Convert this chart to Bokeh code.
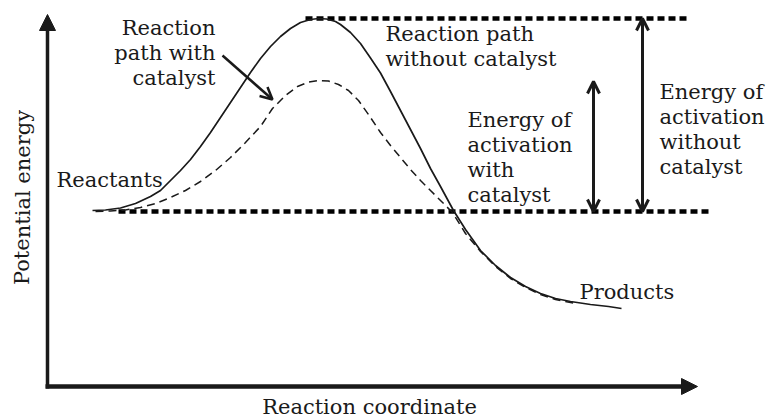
from bokeh.plotting import figure
from bokeh.models import Range1d, Arrow, NormalHead, OpenHead, Label
from bokeh.embed import file_html
from bokeh.resources import INLINE

# ---------------- data (arbitrary energy units) ----------------
coord_uncat = [45, 58, 73, 88, 103, 113, 123, 133, 143, 153,
               163, 173, 183, 193, 203, 213, 223, 233, 243, 253,
               263, 271, 279, 288, 293, 303, 313, 323, 333, 343,
               353, 363, 373, 383, 393, 406, 418, 433, 448, 463,
               478, 493, 508, 523, 543, 561, 574]
energy_uncat = [176, 176.5, 178.5, 183, 190, 196, 206, 216, 227, 240,
                254, 269, 284, 299, 314, 328, 340, 350, 358, 364,
                367, 368, 367.5, 365, 362, 354, 343, 328.5, 313.5, 295,
                276, 257, 238, 218, 200, 176, 157, 136, 121, 109,
                100, 93, 88, 85, 82, 80, 78]

coord_cat = [48, 63, 78, 93, 108, 123, 138, 153, 168, 183,
             198, 213, 225, 238, 250, 261, 271, 281, 291, 301,
             311, 321, 333, 343, 353, 363, 373, 383, 393, 405,
             418, 433, 448, 463, 478, 493, 508, 528]
energy_cat = [175, 175.5, 176.5, 179, 183, 189, 196, 205, 216, 229,
              244, 260, 278, 291, 300, 304.5, 306, 305.5, 302, 296,
              286, 272, 254, 241, 229, 217, 206, 196, 186, 174,
              153, 135, 120, 108, 99, 92, 87, 83]

E_reactants = 175
E_ts_uncat = 368
E_ts_cat = 305

# ---------------- layout / style ----------------
FONT = "DejaVu Serif"
FS = "21px"
INK = "#1a1a1a"

p = figure(width=776, height=417,
           x_range=Range1d(-47, 729), y_range=Range1d(-31, 386),
           x_axis_type=None, y_axis_type=None,
           output_backend="svg", toolbar_location=None, min_border=0)
p.outline_line_color = None
p.background_fill_color = "white"
p.border_fill_color = "white"

# energy level guide lines (thick dotted)
p.line([71, 661], [E_reactants, E_reactants], line_color="black",
       line_width=4.5, line_dash="7 4")
p.line([258, 641], [E_ts_uncat, E_ts_uncat], line_color="black",
       line_width=4.5, line_dash="7 4")

# reaction paths
p.line(coord_uncat, energy_uncat, line_color=INK, line_width=1.7)
p.line(coord_cat, energy_cat, line_color=INK, line_width=1.5,
       line_dash="8 5")

# axes as arrows
p.add_layout(Arrow(x_start=0, y_start=-2, x_end=0, y_end=372,
                   line_width=3.5, line_color=INK,
                   end=NormalHead(size=16, fill_color=INK, line_color=INK)))
p.add_layout(Arrow(x_start=-2, y_start=0, x_end=650, y_end=0,
                   line_width=4.5, line_color=INK,
                   end=NormalHead(size=16, fill_color=INK, line_color=INK)))

# activation energy double arrows
for xa, top in [(546, E_ts_cat), (595, E_ts_uncat)]:
    p.add_layout(Arrow(x_start=xa, y_start=E_reactants, x_end=xa, y_end=top,
                       line_width=3, line_color=INK,
                       start=OpenHead(size=12, line_width=3, line_color=INK),
                       end=OpenHead(size=12, line_width=3, line_color=INK)))

# pointer to catalysed path
p.add_layout(Arrow(x_start=175, y_start=331, x_end=225, y_end=287,
                   line_width=2.5, line_color=INK,
                   end=OpenHead(size=12, line_width=2.5, line_color=INK)))


def lab(x, y, text, align="left", angle=0.0):
    p.add_layout(Label(x=x, y=y, text=text, text_align=align,
                       text_baseline="middle", angle=angle,
                       text_font=FONT, text_font_size=FS,
                       text_color=INK))


for i, t in enumerate(["Reaction", "path with", "catalyst"]):
    lab(168, 359 - 25 * i, t, align="right")
for i, t in enumerate(["Reaction path", "without catalyst"]):
    lab(338, 353 - 25 * i, t)
for i, t in enumerate(["Energy of", "activation", "with", "catalyst"]):
    lab(420, 267 - 25 * i, t)
for i, t in enumerate(["Energy of", "activation", "without", "catalyst"]):
    lab(612, 295 - 25 * i, t)
lab(9, 207, "Reactants")
lab(532, 95, "Products")
lab(322, -20, "Reaction coordinate", align="center")
lab(-25, 189, "Potential energy", align="center", angle=1.5707963)

open("out.html", "w").write(file_html(p, INLINE))
